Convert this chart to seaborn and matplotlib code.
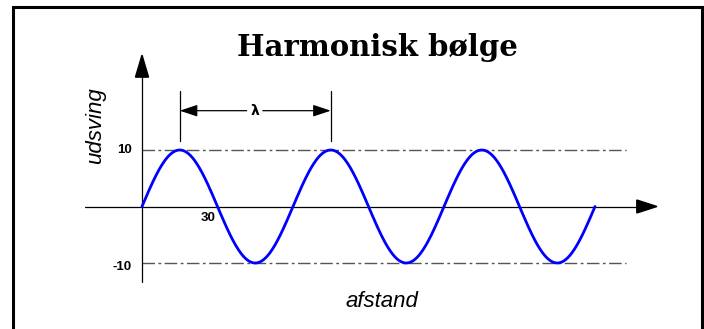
import numpy as np
import pandas as pd
import matplotlib
matplotlib.use("Agg")
import matplotlib.pyplot as plt
from matplotlib.patches import Rectangle, Polygon
import seaborn as sns

# Wave parameters
amplitude = 10
wavelength = 60
distance_end = 180
tick_values = [10, -10]
tick_labels = ["10", "-10"]
x_tick_value = 30
x_tick_label = "30"
title = "Harmonisk bølge"
x_label = "afstand"
y_label = "udsving"
lambda_label = "λ"

x = np.linspace(0, distance_end, 721)
wave = pd.DataFrame({"afstand": x,
                     "udsving": amplitude * np.sin(2 * np.pi * x / wavelength)})

sns.set_theme(style="white")
plt.rcParams["font.family"] = ["Liberation Sans", "DejaVu Sans"]
plt.rcParams["text.color"] = "black"

fig = plt.figure(figsize=(7.04, 3.29), dpi=100)
ax = fig.add_axes([0, 0, 1, 1])
ax.set_xlim(-56.42, 223.3)
ax.set_ylim(-21.68, 36.55)
ax.axis("off")

# outer frame
fig.patches.append(Rectangle((12.5 / 704, -0.05), (702 - 12.5) / 704, 1.05 - 6.5 / 329,
                             transform=fig.transFigure, fill=False,
                             edgecolor="black", linewidth=2.2))

# amplitude guide lines
for v in tick_values:
    ax.plot([0, 192.3], [v, v], color="#555555", linewidth=1.0,
            dashes=(9, 2.5, 2, 2.5))

# coordinate axes with arrowheads
ax.plot([-22.6, 197], [0, 0], color="black", linewidth=0.9)
ax.plot([0, 0], [-13.4, 23.5], color="black", linewidth=0.9)
ax.add_patch(Polygon([[196.6, 1.15], [196.6, -1.15], [204.6, 0]], closed=True,
                     color="black"))
ax.add_patch(Polygon([[-2.6, 22.9], [2.6, 22.9], [0, 26.8]], closed=True,
                     color="black"))

# the wave
sns.lineplot(data=wave, x="afstand", y="udsving", ax=ax, color="#0000ff",
             linewidth=2.0, sort=False)

# tick labels
for v, t in zip(tick_values, tick_labels):
    ax.text(-4.0, v - (0.7 if v < 0 else 0), t, ha="right", va="center",
            fontsize=9.5, fontweight="bold", color="black")
ax.text(x_tick_value - 3.8, -2.0, x_tick_label, ha="center", va="center",
        fontsize=9.5, fontweight="bold", color="black")

# wavelength dimension
p1 = wavelength / 4
p2 = p1 + wavelength
for p in (p1, p2):
    ax.plot([p, p], [11.6, 20.4], color="black", linewidth=0.9)
ymark = 16.96
ax.annotate("", xy=(p1, ymark), xytext=(41.6, ymark),
            arrowprops=dict(arrowstyle="-|>,head_length=0.9,head_width=0.3",
                            color="black", lw=0.9, shrinkA=0, shrinkB=0))
ax.annotate("", xy=(p2, ymark), xytext=(48.0, ymark),
            arrowprops=dict(arrowstyle="-|>,head_length=0.9,head_width=0.3",
                            color="black", lw=0.9, shrinkA=0, shrinkB=0))
ax.text((p1 + p2) / 2 - 0.3, ymark, lambda_label, ha="center", va="center",
        fontsize=10, fontweight="bold", family=["DejaVu Sans"], color="black")

# axis titles
ax.text(95.3, -16.9, x_label, ha="center", va="center", fontsize=16,
        style="italic", color="black")
ax.text(-18.6, 14.3, y_label, ha="center", va="center", fontsize=16,
        style="italic", rotation=90, color="black")

# chart title
ax.text(93.4, 26.6, title, ha="center", va="baseline", fontsize=21,
        fontweight="heavy", family=["DejaVu Serif"], color="black")

fig.savefig("out.png", dpi=100)
